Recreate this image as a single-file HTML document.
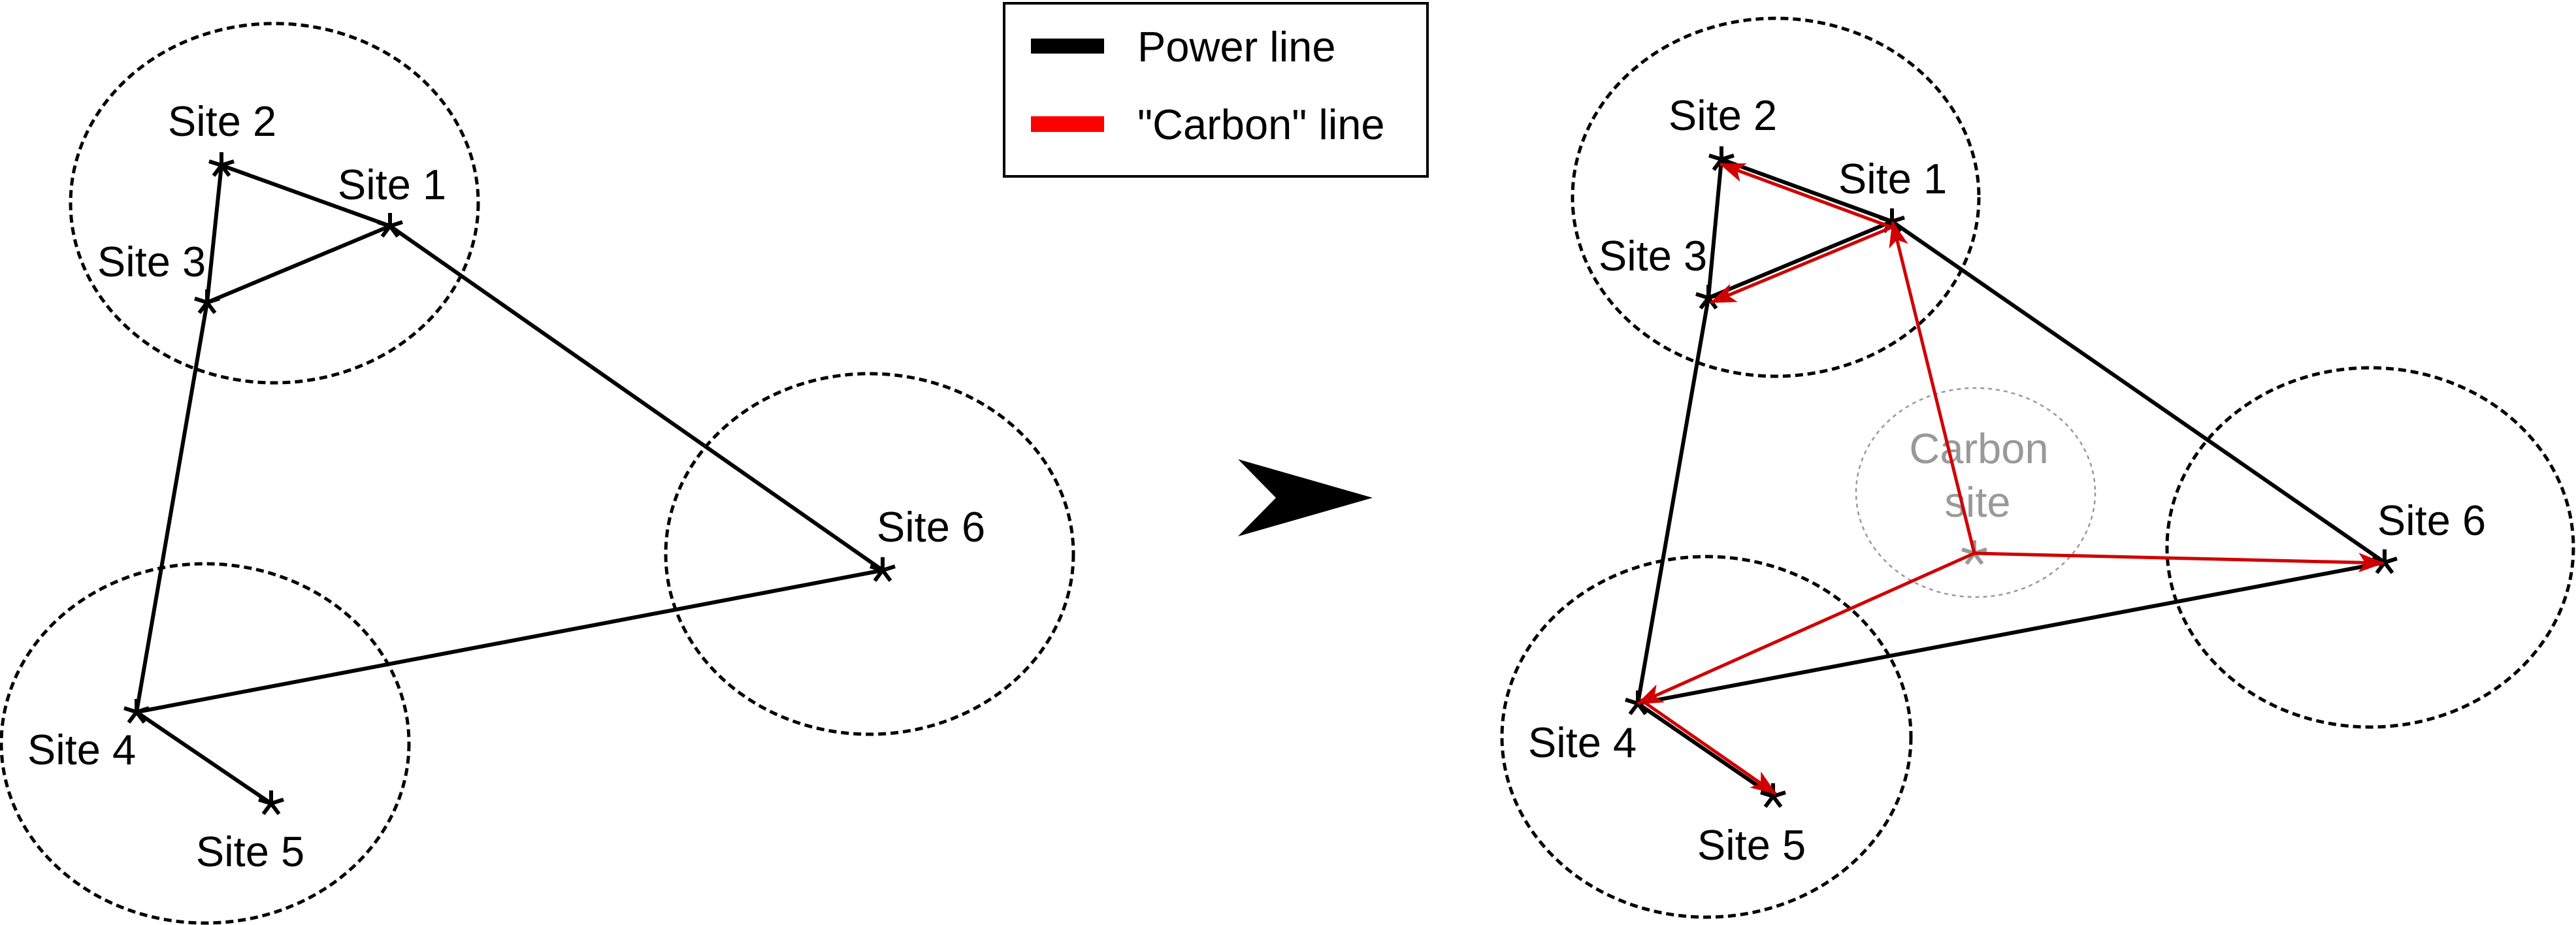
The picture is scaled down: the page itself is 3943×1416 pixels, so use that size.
<!DOCTYPE html>
<html><head><meta charset="utf-8"><style>
html,body{margin:0;padding:0;background:#fff;}
svg{display:block;}
text{font-family:"Liberation Sans",Arial,sans-serif;}
</style></head><body>
<svg width="3943" height="1416" viewBox="0 0 3943 1416" xmlns="http://www.w3.org/2000/svg">
<defs>
<marker id="ah" markerUnits="userSpaceOnUse" viewBox="0 0 40 30" refX="38" refY="15" markerWidth="40" markerHeight="30" orient="auto">
<path d="M0,0 L40,15 L0,30 L10,15 Z" fill="#d00000"/>
</marker>
<g id="star">
<line x1="0" y1="0" x2="0" y2="-20" stroke-width="6"/>
<line x1="0" y1="0" x2="19" y2="-6" stroke-width="6"/>
<line x1="0" y1="0" x2="12" y2="16" stroke-width="6"/>
<line x1="0" y1="0" x2="-12" y2="16" stroke-width="6"/>
<line x1="0" y1="0" x2="-19" y2="-6" stroke-width="6"/>
</g>
</defs>

<!-- LEFT -->
<g fill="none" stroke="#000" stroke-width="5" stroke-dasharray="12 7">
<ellipse cx="420" cy="311" rx="312" ry="275"/>
<ellipse cx="1331" cy="848" rx="312" ry="276"/>
<ellipse cx="314" cy="1138" rx="312" ry="275"/>
</g>
<g stroke="#000" stroke-width="6" fill="none">
<line x1="339" y1="253" x2="597" y2="346"/>
<line x1="339" y1="253" x2="317" y2="463"/>
<line x1="317" y1="463" x2="597" y2="346"/>
<line x1="597" y1="346" x2="1351" y2="873"/>
<line x1="317" y1="463" x2="209" y2="1090"/>
<line x1="209" y1="1090" x2="1351" y2="873"/>
<line x1="209" y1="1090" x2="415" y2="1230"/>
</g>
<g stroke="#000">
<use href="#star" x="339" y="253"/>
<use href="#star" x="597" y="346"/>
<use href="#star" x="317" y="463"/>
<use href="#star" x="1351" y="873"/>
<use href="#star" x="209" y="1090"/>
<use href="#star" x="415" y="1230"/>
</g>
<g font-size="65" fill="#000" text-anchor="middle">
<text x="340" y="208">Site 2</text>
<text x="600" y="305">Site 1</text>
<text x="232" y="423">Site 3</text>
<text x="1425" y="829">Site 6</text>
<text x="125" y="1170">Site 4</text>
<text x="383" y="1326">Site 5</text>
</g>

<!-- LEGEND -->
<rect x="1537" y="5" width="648" height="265" fill="#fff" stroke="#000" stroke-width="4"/>
<rect x="1578" y="59" width="112" height="23" fill="#000"/>
<rect x="1578" y="178" width="112" height="24" fill="#ff0000"/>
<text x="1741" y="94" font-size="65">Power line</text>
<text x="1741" y="213" font-size="65">"Carbon" line</text>

<!-- BIG ARROW -->
<path d="M1895,703 L2101,762 L1895,821 L1953,762 Z" fill="#000"/>

<!-- RIGHT -->
<g fill="none" stroke="#000" stroke-width="5" stroke-dasharray="12 7">
<ellipse cx="2718" cy="302" rx="311" ry="274"/>
<ellipse cx="3628" cy="838" rx="311" ry="275"/>
<ellipse cx="2612" cy="1128" rx="313" ry="276"/>
</g>
<ellipse cx="3024" cy="754" rx="183" ry="160" fill="none" stroke="#999" stroke-width="2.5" stroke-dasharray="6 6"/>
<g font-size="65" fill="#999" text-anchor="middle">
<text x="3029" y="709">Carbon</text>
<text x="3027" y="791">site</text>
</g>
<g stroke="#000" stroke-width="6" fill="none">
<line x1="2635" y1="244" x2="2896" y2="339"/>
<line x1="2635" y1="244" x2="2615" y2="456"/>
<line x1="2615" y1="456" x2="2896" y2="339"/>
<line x1="2896" y1="339" x2="3650" y2="861"/>
<line x1="2615" y1="456" x2="2507" y2="1077"/>
<line x1="2507" y1="1077" x2="3650" y2="861"/>
<line x1="2507" y1="1077" x2="2714" y2="1219"/>
</g>
<g stroke="#999"><use href="#star" x="3022" y="847"/></g>
<g stroke="#000">
<use href="#star" x="2635" y="244"/>
<use href="#star" x="2896" y="339"/>
<use href="#star" x="2615" y="456"/>
<use href="#star" x="3650" y="861"/>
<use href="#star" x="2507" y="1077"/>
<use href="#star" x="2714" y="1219"/>
</g>
<g stroke="#d00000" stroke-width="5" fill="none" marker-end="url(#ah)">
<line x1="2893" y1="347" x2="2633" y2="251"/>
<line x1="2898" y1="347" x2="2619" y2="463"/>
<line x1="3022" y1="847" x2="2897" y2="340"/>
<line x1="3022" y1="847" x2="3648" y2="862"/>
<line x1="3022" y1="847" x2="2507" y2="1077"/>
<line x1="2511" y1="1071" x2="2718" y2="1215"/>
</g>
<g font-size="65" fill="#000" text-anchor="middle">
<text x="2637" y="199">Site 2</text>
<text x="2897" y="296">Site 1</text>
<text x="2530" y="414">Site 3</text>
<text x="3722" y="819">Site 6</text>
<text x="2422" y="1159">Site 4</text>
<text x="2681" y="1316">Site 5</text>
</g>
</svg>
</body></html>
